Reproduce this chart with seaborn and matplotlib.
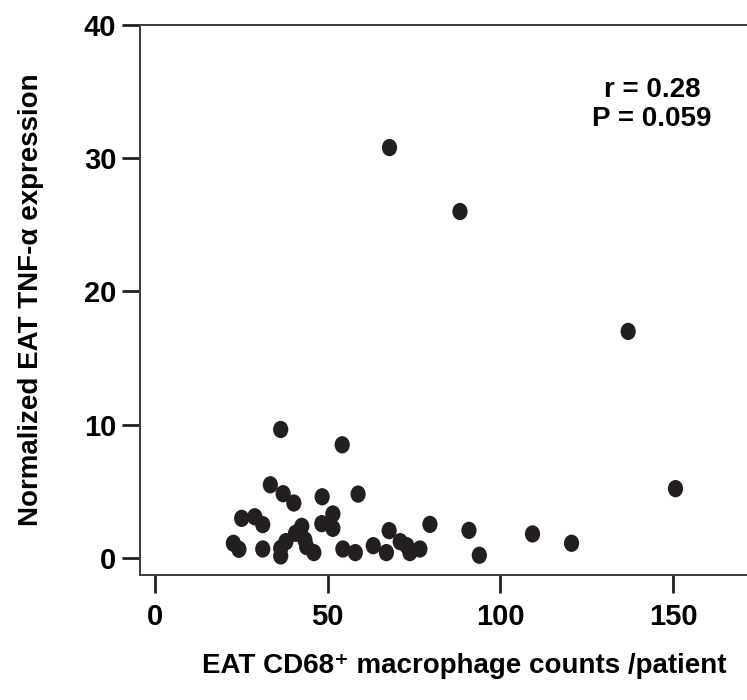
import matplotlib
matplotlib.use("Agg")
import matplotlib.pyplot as plt
import matplotlib.path as mpath
import numpy as np
import pandas as pd
import seaborn as sns

# CD68+ macrophage counts per patient (x) vs normalized TNF-a expression (y)
macrophage_counts = [
    36.4, 54.2, 33.4, 37.1, 40.2, 48.4, 58.8, 25.1, 28.9, 31.2,
    51.5, 48.3, 51.5, 42.5, 40.7, 37.9, 43.4, 22.7, 24.3, 31.2,
    36.4, 36.4, 46.0, 43.9, 54.4, 58.0, 63.2, 67.0, 67.8, 71.0,
    72.9, 73.8, 76.7, 79.6, 90.9, 93.9, 109.3, 120.6, 150.7, 137.0,
    67.9, 88.3,
]
tnf_expression = [
    9.64, 8.49, 5.49, 4.82, 4.12, 4.59, 4.79, 2.97, 3.09, 2.50,
    3.30, 2.57, 2.22, 2.37, 1.85, 1.22, 1.35, 1.10, 0.65, 0.67,
    0.72, 0.15, 0.40, 0.85, 0.67, 0.40, 0.92, 0.40, 2.05, 1.22,
    0.92, 0.40, 0.67, 2.52, 2.07, 0.20, 1.80, 1.10, 5.20, 17.0,
    30.8, 26.0,
]
x_ticks = [0, 50, 100, 150]
y_ticks = [0, 10, 20, 30, 40]
stats_text = "r = 0.28\nP = 0.059"

sns.set_theme(style="ticks")
plt.rcParams["font.family"] = ["Liberation Sans", "DejaVu Sans"]
plt.rcParams["font.weight"] = "bold"
plt.rcParams["text.color"] = "black"
plt.rcParams["axes.labelcolor"] = "black"

df = pd.DataFrame({"count": macrophage_counts, "tnf": tnf_expression})

# slightly tall ellipse, like the original dots
circle = mpath.Path.unit_circle()
ellipse = mpath.Path(circle.vertices * np.array([0.88, 1.0]), circle.codes)

fig = plt.figure(figsize=(7.47, 7.0), dpi=100)
ax = fig.add_axes([0.1874, 0.1786, 0.8126, 0.7857])

sns.scatterplot(
    data=df, x="count", y="tnf", ax=ax,
    marker=ellipse, s=155, color="#231f20", edgecolor="none",
    linewidth=0, legend=False,
)

ax.set_xlim(-4.34, 171.4)
ax.set_ylim(-1.28, 40)
ax.set_xticks(x_ticks)
ax.set_yticks(y_ticks)

# frame: left, top, bottom; the right side runs off the picture
ax.spines["right"].set_visible(False)
for side in ["left", "top", "bottom"]:
    ax.spines[side].set_linewidth(1.4)
    ax.spines[side].set_color("#3a3a3a")

ax.tick_params(axis="both", length=13, width=2.0, color="#231f20",
               labelsize=21, labelcolor="black")
ax.tick_params(axis="x", pad=7)
ax.tick_params(axis="y", pad=4)
for lbl in ax.get_xticklabels() + ax.get_yticklabels():
    lbl.set_fontweight("bold")

ax.set_xlabel("EAT CD68\u207a macrophage counts /patient",
              fontsize=20, fontweight="bold")
ax.set_ylabel("Normalized EAT TNF-\u03b1 expression",
              fontsize=20, fontweight="bold")
ax.xaxis.set_label_coords(0.535, -0.142)
ax.yaxis.set_label_coords(-0.158, 0.5)

ax.text(143.9, 34.0, stats_text, ha="center", va="center",
        fontsize=20, fontweight="bold", linespacing=1.15)

fig.savefig("out.png", dpi=100)
plt.close(fig)
